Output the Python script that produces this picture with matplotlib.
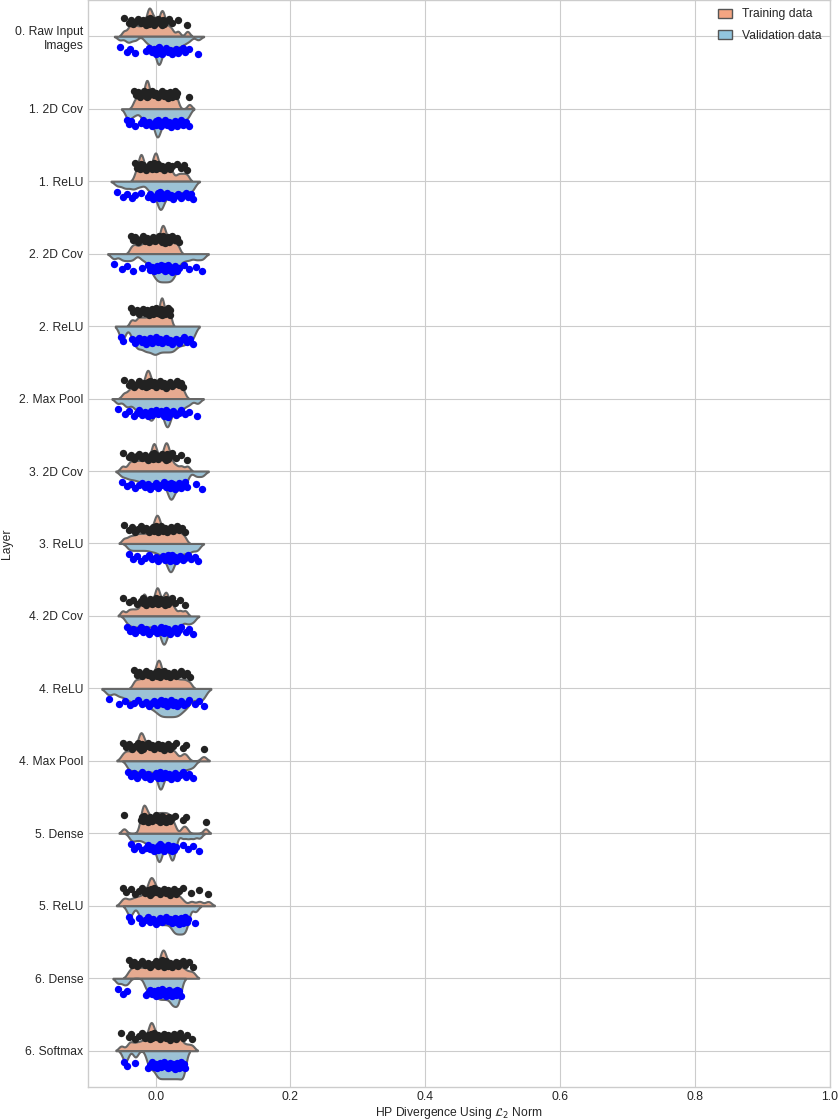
import numpy as np
import pandas as pd
import matplotlib
matplotlib.use("Agg")
import matplotlib.pyplot as plt
from matplotlib.patches import Patch
import seaborn as sns

layers = ["0. Raw Input\nImages", "1. 2D Cov", "1. ReLU", "2. 2D Cov", "2. ReLU",
          "2. Max Pool", "3. 2D Cov", "3. ReLU", "4. 2D Cov", "4. ReLU",
          "4. Max Pool", "5. Dense", "5. ReLU", "6. Dense", "6. Softmax"]

train = [
    [-0.047,-0.040,-0.037,-0.033,-0.030,-0.026,-0.022,-0.018,-0.015,-0.012,-0.011,-0.010,-0.009,-0.008,-0.006,-0.004,-0.002,0.000,0.003,0.006,0.008,0.009,0.010,0.011,0.013,0.016,0.020,0.024,0.033,0.047],
    [-0.032,-0.029,-0.026,-0.023,-0.020,-0.017,-0.015,-0.014,-0.013,-0.013,-0.012,-0.011,-0.009,-0.006,-0.003,0.000,0.003,0.006,0.009,0.012,0.015,0.018,0.020,0.022,0.024,0.026,0.028,0.030,0.032,0.050],
    [-0.030,-0.027,-0.024,-0.023,-0.022,-0.021,-0.020,-0.018,-0.015,-0.012,-0.009,-0.006,-0.004,-0.002,-0.001,0.000,0.001,0.002,0.004,0.007,0.010,0.013,0.016,0.019,0.022,0.025,0.032,0.037,0.042,0.047],
    [-0.037,-0.033,-0.030,-0.026,-0.022,-0.019,-0.016,-0.013,-0.010,-0.007,-0.004,-0.001,0.002,0.005,0.007,0.008,0.009,0.010,0.011,0.012,0.013,0.014,0.016,0.018,0.020,0.022,0.025,0.028,0.031,0.034],
    [-0.037,-0.033,-0.028,-0.025,-0.022,-0.019,-0.016,-0.013,-0.010,-0.008,-0.006,-0.004,-0.002,0.000,0.002,0.004,0.006,0.007,0.008,0.009,0.009,0.010,0.011,0.012,0.014,0.016,0.018,0.019,0.021,0.022],
    [-0.047,-0.040,-0.036,-0.032,-0.028,-0.024,-0.020,-0.017,-0.014,-0.013,-0.012,-0.011,-0.010,-0.008,-0.005,-0.002,0.001,0.004,0.007,0.010,0.013,0.016,0.019,0.022,0.025,0.028,0.031,0.034,0.038,0.041],
    [-0.049,-0.040,-0.036,-0.032,-0.028,-0.024,-0.020,-0.016,-0.012,-0.008,-0.005,-0.004,-0.003,-0.002,-0.001,0.001,0.004,0.007,0.010,0.013,0.014,0.015,0.016,0.017,0.019,0.021,0.024,0.030,0.038,0.047],
    [-0.047,-0.040,-0.035,-0.030,-0.026,-0.022,-0.018,-0.014,-0.010,-0.007,-0.004,-0.002,0.000,0.001,0.002,0.003,0.004,0.006,0.008,0.011,0.014,0.017,0.020,0.023,0.026,0.029,0.032,0.035,0.039,0.043],
    [-0.049,-0.040,-0.034,-0.028,-0.022,-0.019,-0.018,-0.017,-0.015,-0.012,-0.009,-0.006,-0.003,0.000,0.001,0.002,0.003,0.004,0.006,0.009,0.012,0.014,0.015,0.016,0.018,0.021,0.024,0.028,0.036,0.044],
    [-0.032,-0.028,-0.024,-0.020,-0.017,-0.014,-0.011,-0.008,-0.005,-0.002,0.000,0.002,0.003,0.004,0.005,0.006,0.007,0.009,0.012,0.015,0.018,0.021,0.024,0.027,0.030,0.034,0.038,0.042,0.046,0.051],
    [-0.049,-0.044,-0.040,-0.035,-0.030,-0.026,-0.024,-0.023,-0.022,-0.021,-0.020,-0.018,-0.015,-0.012,-0.009,-0.006,-0.003,0.000,0.003,0.006,0.009,0.012,0.015,0.018,0.022,0.026,0.030,0.040,0.045,0.071],
    [-0.047,-0.022,-0.020,-0.019,-0.018,-0.017,-0.016,-0.014,-0.012,-0.010,-0.008,-0.005,-0.002,0.000,0.002,0.004,0.006,0.008,0.010,0.012,0.014,0.016,0.018,0.020,0.022,0.025,0.028,0.040,0.045,0.074],
    [-0.049,-0.044,-0.036,-0.030,-0.025,-0.020,-0.016,-0.012,-0.009,-0.008,-0.007,-0.006,-0.005,-0.003,0.000,0.003,0.006,0.009,0.012,0.015,0.018,0.021,0.024,0.027,0.030,0.034,0.040,0.053,0.065,0.078],
    [-0.040,-0.035,-0.032,-0.028,-0.024,-0.020,-0.016,-0.012,-0.008,-0.004,0.000,0.004,0.007,0.009,0.010,0.011,0.012,0.013,0.015,0.018,0.021,0.024,0.027,0.030,0.033,0.036,0.040,0.044,0.050,0.056],
    [-0.051,-0.040,-0.036,-0.030,-0.025,-0.020,-0.016,-0.012,-0.009,-0.008,-0.007,-0.006,-0.005,-0.003,0.000,0.003,0.006,0.009,0.012,0.015,0.018,0.021,0.024,0.027,0.030,0.033,0.036,0.040,0.047,0.054],
]

valid = [
    [-0.053,-0.043,-0.038,-0.030,-0.015,-0.010,-0.006,-0.003,0.000,0.002,0.003,0.004,0.005,0.005,0.006,0.007,0.009,0.012,0.015,0.018,0.021,0.024,0.027,0.030,0.033,0.036,0.040,0.044,0.050,0.063],
    [-0.043,-0.040,-0.036,-0.030,-0.022,-0.018,-0.014,-0.010,-0.006,-0.003,0.000,0.001,0.002,0.003,0.004,0.006,0.008,0.011,0.014,0.017,0.020,0.023,0.026,0.029,0.032,0.035,0.038,0.041,0.045,0.049],
    [-0.057,-0.048,-0.042,-0.035,-0.030,-0.022,-0.012,-0.008,-0.004,0.000,0.003,0.005,0.006,0.007,0.008,0.009,0.011,0.014,0.017,0.020,0.023,0.026,0.029,0.033,0.038,0.042,0.045,0.048,0.052,0.056],
    [-0.062,-0.050,-0.042,-0.034,-0.020,-0.012,-0.008,-0.005,-0.002,0.000,0.002,0.004,0.006,0.008,0.010,0.012,0.014,0.016,0.018,0.020,0.022,0.024,0.026,0.028,0.031,0.035,0.042,0.050,0.060,0.069],
    [-0.051,-0.048,-0.035,-0.030,-0.027,-0.024,-0.020,-0.017,-0.014,-0.011,-0.008,-0.005,-0.002,0.000,0.003,0.006,0.009,0.012,0.015,0.018,0.021,0.024,0.027,0.030,0.034,0.038,0.042,0.046,0.051,0.056],
    [-0.056,-0.045,-0.040,-0.032,-0.028,-0.024,-0.020,-0.016,-0.012,-0.009,-0.007,-0.006,-0.004,0.000,0.004,0.008,0.012,0.015,0.016,0.017,0.018,0.019,0.022,0.026,0.030,0.034,0.038,0.043,0.050,0.062],
    [-0.050,-0.042,-0.036,-0.030,-0.025,-0.020,-0.016,-0.012,-0.008,-0.004,0.000,0.004,0.008,0.012,0.016,0.019,0.021,0.022,0.023,0.024,0.026,0.029,0.032,0.035,0.038,0.040,0.043,0.046,0.060,0.069],
    [-0.040,-0.034,-0.028,-0.022,-0.016,-0.010,-0.005,0.000,0.004,0.008,0.011,0.014,0.016,0.018,0.020,0.021,0.022,0.023,0.024,0.026,0.028,0.030,0.033,0.036,0.040,0.044,0.048,0.052,0.058,0.063],
    [-0.043,-0.038,-0.034,-0.030,-0.026,-0.022,-0.018,-0.014,-0.010,-0.006,-0.002,0.002,0.005,0.008,0.010,0.011,0.012,0.013,0.014,0.016,0.019,0.022,0.025,0.028,0.031,0.034,0.038,0.045,0.050,0.056],
    [-0.069,-0.055,-0.045,-0.038,-0.032,-0.026,-0.020,-0.015,-0.010,-0.006,-0.002,0.002,0.005,0.008,0.011,0.014,0.017,0.020,0.023,0.026,0.029,0.032,0.035,0.038,0.042,0.046,0.050,0.058,0.065,0.071],
    [-0.041,-0.037,-0.032,-0.028,-0.024,-0.020,-0.016,-0.012,-0.008,-0.004,0.000,0.003,0.005,0.006,0.007,0.008,0.009,0.011,0.014,0.017,0.020,0.023,0.026,0.029,0.032,0.036,0.040,0.045,0.050,0.056],
    [-0.037,-0.032,-0.026,-0.020,-0.015,-0.011,-0.008,-0.005,-0.002,0.001,0.003,0.004,0.005,0.006,0.007,0.009,0.012,0.015,0.018,0.021,0.023,0.024,0.025,0.026,0.027,0.030,0.040,0.048,0.056,0.065],
    [-0.040,-0.036,-0.024,-0.020,-0.016,-0.012,-0.008,-0.004,0.000,0.003,0.006,0.009,0.012,0.015,0.018,0.021,0.024,0.026,0.028,0.030,0.032,0.034,0.036,0.038,0.040,0.042,0.044,0.046,0.048,0.059],
    [-0.056,-0.048,-0.042,-0.015,-0.012,-0.009,-0.006,-0.003,0.000,0.002,0.004,0.006,0.008,0.010,0.012,0.014,0.016,0.018,0.020,0.022,0.024,0.025,0.026,0.028,0.030,0.031,0.032,0.034,0.035,0.037],
    [-0.047,-0.043,-0.030,-0.012,-0.009,-0.006,-0.003,0.000,0.002,0.004,0.006,0.008,0.010,0.012,0.014,0.016,0.018,0.020,0.022,0.024,0.026,0.028,0.030,0.032,0.034,0.036,0.038,0.040,0.042,0.043],
]

set_names = ["Training data", "Validation data"]
x_ticks = [0.0, 0.2, 0.4, 0.6, 0.8, 1.0]

plt.style.use("seaborn-v0_8-whitegrid")
plt.rcParams["font.family"] = ["Liberation Sans", "DejaVu Sans"]
plt.rcParams["font.size"] = 8.7

col_train = (0.957, 0.647, 0.510)
col_valid = (0.573, 0.773, 0.871)

rows = []
for i, lay in enumerate(layers):
    for v in train[i]:
        rows.append((lay, set_names[0], v))
    for v in valid[i]:
        rows.append((lay, set_names[1], v))
df = pd.DataFrame(rows, columns=["layer", "set", "value"])

fig = plt.figure(figsize=(8.4, 11.2), dpi=100)
ax = fig.add_axes([0.105, 0.0295, 0.883, 0.9705])

sns.violinplot(data=df, x="value", y="layer", hue="set", split=True, inner=None,
               orient="h", order=layers, hue_order=set_names,
               palette=[col_train, col_valid], linecolor="#666666", linewidth=1.5,
               bw_adjust=0.3, cut=2, density_norm="width", width=0.78, ax=ax,
               legend=False)

pt_colors = ["#222222", "#0000ff"]
for i in range(len(layers)):
    for s, (vals, off) in enumerate(((train[i], -0.2), (valid[i], 0.2))):
        n = len(vals)
        jit = ((np.arange(n) * 0.618034) % 1.0 - 0.5) * 0.1
        ax.scatter(vals, i + off + jit, s=28, color=pt_colors[s], zorder=5,
                   linewidths=0)

ax.set_xlim(-0.1, 1.0)
ax.set_ylim(len(layers) - 0.5, -0.5)
ax.set_xticks(x_ticks)
ax.set_xticklabels([f"{t:.1f}" for t in x_ticks])
ax.xaxis.grid(True)
ax.yaxis.grid(True)
ax.set_axisbelow(True)
ax.set_xlabel(r"HP Divergence Using $\mathcal{L}_2$ Norm", fontsize=8.7, labelpad=1)
ax.set_ylabel("Layer", fontsize=8.7)
ax.yaxis.set_label_coords(-0.101, 0.5)
ax.tick_params(labelsize=8.7, length=0)
ax.tick_params(axis="x", pad=3)

handles = [Patch(facecolor=col_train, edgecolor="#555555", label=set_names[0]),
           Patch(facecolor=col_valid, edgecolor="#555555", label=set_names[1])]
ax.legend(handles=handles, loc="upper right", frameon=False, fontsize=8.7,
          handlelength=1.2, handleheight=0.8, labelspacing=0.75,
          borderaxespad=0.3, handletextpad=0.8)

fig.savefig("out.png", dpi=100)
